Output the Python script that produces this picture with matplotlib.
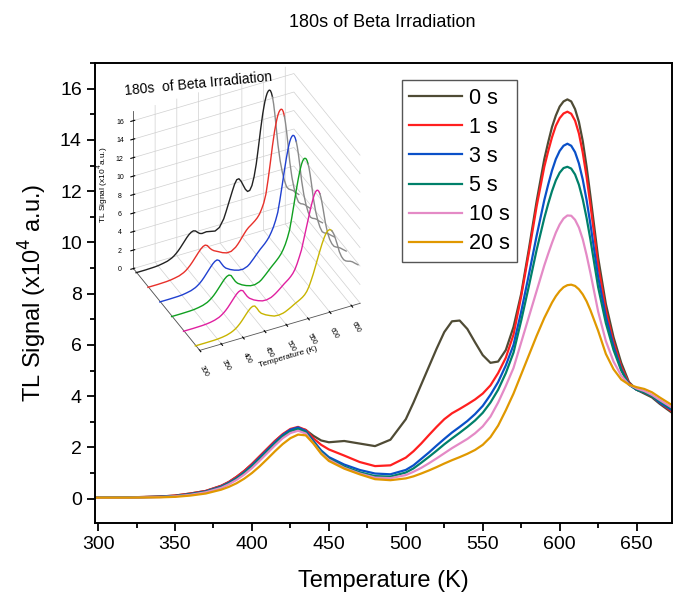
import matplotlib
matplotlib.use('Agg')
import matplotlib.pyplot as plt
from matplotlib.ticker import MultipleLocator

plt.rcParams['font.family'] = ['Liberation Sans', 'DejaVu Sans']

# temperature grid (K) and TL signal (x10^4 a.u.) for each pre-heat time
temperature = [298, 320, 340, 350, 360, 370, 380, 385, 390, 395,
               400, 405, 410, 415, 420, 425, 430, 435, 440, 445,
               450, 460, 470, 480, 490, 500, 505, 510, 515, 520,
               525, 530, 535, 540, 545, 550, 555, 560, 565, 570,
               575, 580, 585, 590, 592.5, 595, 597.5, 600, 602.5, 605,
               607.5, 610, 612.5, 615, 617.5, 620, 625, 630, 635, 640,
               645, 650, 655, 660, 665, 673]

sig_0s = [0.05, 0.05, 0.08, 0.12, 0.2, 0.3, 0.5, 0.65, 0.85, 1.08,
          1.35, 1.65, 1.95, 2.25, 2.5, 2.68, 2.76, 2.68, 2.45, 2.27,
          2.2, 2.25, 2.15, 2.05, 2.3, 3.1, 3.75, 4.45, 5.15, 5.85,
          6.5, 6.92, 6.95, 6.62, 6.1, 5.6, 5.3, 5.35, 5.8, 6.7,
          8.0, 9.75, 11.6, 13.25, 13.9, 14.5, 14.95, 15.3, 15.5, 15.58,
          15.5, 15.2, 14.7, 13.95, 12.95, 11.8, 9.4, 7.6, 6.3, 5.3,
          4.55, 4.25, 4.1, 3.95, 3.7, 3.35]
sig_1s = [0.05, 0.05, 0.08, 0.12, 0.2, 0.3, 0.5, 0.65, 0.85, 1.08,
          1.35, 1.65, 1.95, 2.25, 2.52, 2.72, 2.8, 2.68, 2.35, 2.1,
          1.92, 1.68, 1.43, 1.27, 1.3, 1.6, 1.85, 2.15, 2.48, 2.8,
          3.1, 3.33, 3.5, 3.68, 3.87, 4.1, 4.42, 4.9, 5.5, 6.4,
          7.9, 9.6, 11.4, 12.95, 13.55, 14.1, 14.55, 14.85, 15.03, 15.1,
          15.02, 14.75, 14.25, 13.5, 12.55, 11.45, 9.1, 7.35, 6.1, 5.15,
          4.5, 4.25, 4.15, 4.0, 3.75, 3.4]
sig_3s = [0.05, 0.05, 0.07, 0.1, 0.18, 0.28, 0.47, 0.62, 0.8, 1.03,
          1.3, 1.6, 1.9, 2.2, 2.48, 2.69, 2.78, 2.64, 2.25, 1.88,
          1.62, 1.33, 1.12, 0.98, 0.95, 1.12, 1.3, 1.55, 1.8, 2.07,
          2.33, 2.58, 2.8, 3.03, 3.3, 3.62, 4.05, 4.55, 5.2, 6.0,
          7.3, 8.75, 10.25, 11.65, 12.25, 12.8, 13.25, 13.57, 13.77, 13.85,
          13.77, 13.52, 13.08, 12.45, 11.65, 10.7, 8.65, 7.1, 5.95, 5.05,
          4.45, 4.25, 4.15, 4.0, 3.75, 3.45]
sig_5s = [0.05, 0.05, 0.07, 0.1, 0.17, 0.27, 0.45, 0.6, 0.78, 1.0,
          1.26, 1.55, 1.85, 2.15, 2.43, 2.63, 2.72, 2.6, 2.2, 1.82,
          1.56, 1.25, 1.03, 0.88, 0.86, 1.02, 1.18, 1.4, 1.63, 1.87,
          2.12, 2.35, 2.57, 2.8, 3.05, 3.35, 3.75, 4.25, 4.9, 5.7,
          6.95, 8.3, 9.7, 10.95, 11.5, 12.0, 12.42, 12.72, 12.9, 12.95,
          12.88, 12.65, 12.25, 11.68, 10.95, 10.1, 8.25, 6.85, 5.8, 5.0,
          4.45, 4.25, 4.15, 4.0, 3.8, 3.5]
sig_10s = [0.04, 0.04, 0.06, 0.09, 0.15, 0.25, 0.42, 0.56, 0.73, 0.94,
           1.19, 1.48, 1.78, 2.08, 2.36, 2.56, 2.65, 2.54, 2.15, 1.78,
           1.52, 1.2, 0.98, 0.82, 0.8, 0.92, 1.05, 1.2, 1.38, 1.57,
           1.77, 1.97, 2.15, 2.33, 2.55, 2.82, 3.2, 3.75, 4.4, 5.1,
           6.1, 7.1, 8.1, 9.1, 9.55, 9.98, 10.38, 10.7, 10.93, 11.05,
           11.04, 10.88, 10.58, 10.12, 9.5, 8.8, 7.3, 6.15, 5.35, 4.8,
           4.45, 4.3, 4.2, 4.05, 3.85, 3.55]
sig_20s = [0.04, 0.04, 0.05, 0.07, 0.12, 0.2, 0.35, 0.46, 0.6, 0.78,
           1.0, 1.26, 1.55, 1.85, 2.13, 2.36, 2.5, 2.47, 2.15, 1.75,
           1.47, 1.17, 0.95, 0.76, 0.72, 0.79, 0.87, 0.98, 1.1, 1.23,
           1.37, 1.5, 1.62, 1.75, 1.9, 2.1, 2.4, 2.85, 3.45, 4.1,
           4.85, 5.6, 6.35, 7.05, 7.35, 7.65, 7.9, 8.1, 8.25, 8.33,
           8.35, 8.3, 8.17, 7.97, 7.7, 7.35, 6.55, 5.65, 5.05, 4.65,
           4.45, 4.35, 4.28, 4.15, 3.95, 3.65]

labels = ['0 s', '1 s', '3 s', '5 s', '10 s', '20 s']
series = [sig_0s, sig_1s, sig_3s, sig_5s, sig_10s, sig_20s]
colors = ['#4f4b35', '#ff1f1f', '#0a50c8', '#00806a', '#e48ac6', '#e09800']
inset_colors = ['#222222', '#e8302a', '#2040d0', '#10a020', '#e020a0', '#c8b400']

fig = plt.figure(figsize=(6.76, 5.96), dpi=100)
ax = fig.add_axes([0.1405, 0.1225, 0.8536, 0.7718])

for lab, vals, col in zip(labels, series, colors):
    ax.plot(temperature, vals, color=col, lw=1.6, label=lab, solid_joinstyle='round')

ax.set_xlim(298, 673)
ax.set_ylim(-0.95, 17)
ax.xaxis.set_major_locator(MultipleLocator(50))
ax.xaxis.set_minor_locator(MultipleLocator(25))
ax.yaxis.set_major_locator(MultipleLocator(2))
ax.yaxis.set_minor_locator(MultipleLocator(1))
ax.tick_params(which='major', direction='out', length=6, width=1.3, labelsize=14, top=False, right=False)
ax.tick_params(which='minor', direction='out', length=3.5, width=1.3, top=False, right=False)
for sp in ax.spines.values():
    sp.set_linewidth(1.4)

ax.set_xlabel('Temperature (K)', fontsize=17, labelpad=12)
ax.set_ylabel('TL Signal (x10$^4$ a.u.)', fontsize=17, labelpad=8)
fig.text(0.565, 0.962, '180s of Beta Irradiation', ha='center', va='center', fontsize=13)

leg = ax.legend(loc='upper left', bbox_to_anchor=(0.532, 0.963), borderaxespad=0,
                fontsize=15.5, handlelength=2.45, handletextpad=0.3, labelspacing=0.38,
                borderpad=0.35, fancybox=False, framealpha=1)
leg.get_frame().set_edgecolor('#555555')
leg.get_frame().set_linewidth(1.0)

# inset: 3D waterfall of the same curves, tails after the peak drawn in grey
ax3 = fig.add_axes([0.078, 0.344, 0.56, 0.6], projection='3d')
ax3.set_facecolor('none')
ax3.set_proj_type('ortho')
n = len(series)
cut = temperature.index(612.5)
for i, (vals, col) in enumerate(zip(series, inset_colors)):
    ypos = n - 1 - i
    ax3.plot(temperature[:cut + 1], [ypos] * (cut + 1), vals[:cut + 1], color=col, lw=1.0)
    ax3.plot(temperature[cut:], [ypos] * (len(temperature) - cut), vals[cut:], color='#8a8a8a', lw=1.0)
ax3.set_xlim(300, 670)
ax3.set_ylim(-0.3, n - 0.7)
ax3.set_zlim(0, 17)
ax3.set_xticks(range(300, 651, 50))
ax3.set_yticks([])
ax3.set_zticks(range(0, 17, 2))
ax3.tick_params(labelsize=5, pad=0)
for t in ax3.get_xticklabels():
    t.set_rotation(-60)
ax3.set_xlabel('Temperature (K)', fontsize=6, labelpad=-4)
ax3.set_zlabel('TL Signal (x10$^4$a.u.)', fontsize=6, labelpad=-3)
for axis in (ax3.xaxis, ax3.yaxis, ax3.zaxis):
    axis.set_pane_color((1, 1, 1, 0))
    axis._axinfo['grid']['color'] = '#d0d0d0'
    axis._axinfo['grid']['linewidth'] = 0.5
    axis.line.set_color('#555555')
    axis.line.set_linewidth(0.6)
ax3.set_box_aspect((1.18, 1.0, 1.3), zoom=0.83)
ax3.view_init(elev=37, azim=-116)
fig.text(0.294, 0.859, '180s  of Beta Irradiation', ha='center', va='center', fontsize=10, rotation=5.5)

fig.savefig('out.png', dpi=100)
